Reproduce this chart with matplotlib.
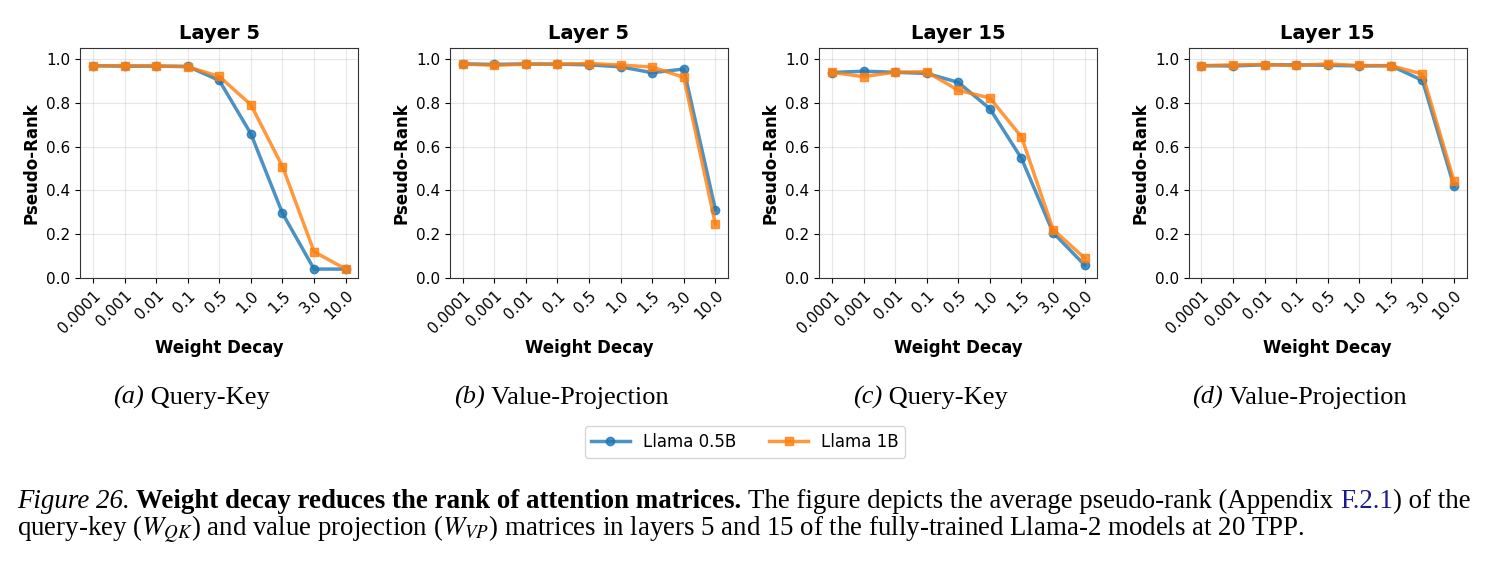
import matplotlib
matplotlib.use("Agg")
import matplotlib.pyplot as plt
import numpy as np

# dados
weight_decay = ["0.0001", "0.001", "0.01", "0.1", "0.5", "1.0", "1.5", "3.0", "10.0"]

qk_l5_05b = [0.968, 0.966, 0.966, 0.965, 0.901, 0.658, 0.296, 0.042, 0.042]
qk_l5_1b = [0.968, 0.968, 0.967, 0.963, 0.919, 0.790, 0.509, 0.121, 0.042]

vp_l5_05b = [0.976, 0.974, 0.976, 0.975, 0.972, 0.963, 0.936, 0.953, 0.313]
vp_l5_1b = [0.976, 0.970, 0.975, 0.975, 0.978, 0.971, 0.962, 0.915, 0.247]

qk_l15_05b = [0.937, 0.943, 0.938, 0.933, 0.892, 0.772, 0.546, 0.208, 0.060]
qk_l15_1b = [0.938, 0.918, 0.939, 0.940, 0.856, 0.821, 0.644, 0.222, 0.092]

vp_l15_05b = [0.968, 0.967, 0.972, 0.972, 0.970, 0.967, 0.968, 0.901, 0.418]
vp_l15_1b = [0.968, 0.972, 0.973, 0.969, 0.976, 0.969, 0.968, 0.930, 0.441]

titles = ["Layer 5", "Layer 5", "Layer 15", "Layer 15"]
subcaptions = [("(a)", "Query-Key"), ("(b)", "Value-Projection"),
               ("(c)", "Query-Key"), ("(d)", "Value-Projection")]
series_labels = ["Llama 0.5B", "Llama 1B"]

plt.rcParams["font.family"] = ["DejaVu Sans"]
plt.rcParams["mathtext.fontset"] = "stix"

W, H = 1491, 567
fig = plt.figure(figsize=(W / 100, H / 100), dpi=100)
r = fig.canvas.get_renderer()
serif = "Liberation Serif"

lefts = [80.3, 450.0, 819.3, 1188.7]
ax_w, ax_top, ax_bot = 278.0, 47.7, 278.3

dados = [(qk_l5_05b, qk_l5_1b), (vp_l5_05b, vp_l5_1b),
         (qk_l15_05b, qk_l15_1b), (vp_l15_05b, vp_l15_1b)]

x = np.arange(len(weight_decay))
handles = []
for i, (small, big) in enumerate(dados):
    ax = fig.add_axes([lefts[i] / W, 1 - ax_bot / H, ax_w / W, (ax_bot - ax_top) / H])
    h1, = ax.plot(x, small, marker="o", color="#1f77b4", lw=2.5, ms=6, alpha=0.8,
                  label=series_labels[0])
    h2, = ax.plot(x, big, marker="s", color="#ff7f0e", lw=2.5, ms=6, alpha=0.8,
                  label=series_labels[1])
    handles = [h1, h2]
    ax.set_ylim(0, 1.05)
    ax.set_xticks(x)
    ax.set_xticklabels(weight_decay, rotation=45, ha="right", rotation_mode="anchor", fontsize=11)
    ax.tick_params(axis="y", labelsize=11)
    ax.set_title(titles[i], fontsize=14, fontweight="bold")
    ax.set_xlabel("Weight Decay", fontsize=12, fontweight="bold", labelpad=2)
    ax.set_ylabel("Pseudo-Rank", fontsize=12, fontweight="bold")
    ax.grid(True, alpha=0.3)
    for s in ax.spines.values():
        s.set_color("#333333")

    # legenda (a), (b)... abaixo de cada painel
    cx = lefts[i] + ax_w / 2 - 28
    letra, nome = subcaptions[i]
    t1 = fig.text(0, 0, letra, fontsize=19, family=serif, style="italic", va="baseline")
    t2 = fig.text(0, 0, " " + nome, fontsize=19, family=serif, va="baseline")
    w1 = t1.get_window_extent(r).width
    w2 = t2.get_window_extent(r).width
    x0 = cx - (w1 + w2) / 2
    t1.set_position((x0 / W, 1 - 404 / H))
    t2.set_position(((x0 + w1) / W, 1 - 404 / H))

fig.legend(handles=handles, loc="center", bbox_to_anchor=(745 / W, 1 - 442 / H),
           ncol=2, fontsize=12, columnspacing=2.0, handlelength=2.3)

# legenda da figura, com estilos misturados
fs = 19.4
sp = fig.text(0, 0, "a a", fontsize=fs, family=serif)
sp2 = fig.text(0, 0, "aa", fontsize=fs, family=serif)
space_w = sp.get_window_extent(r).width - sp2.get_window_extent(r).width
sp.remove()
sp2.remove()


def escrever(xpix, ypix, partes):
    for texto, kw in partes:
        if texto == " ":
            xpix += space_w
            continue
        t = fig.text(xpix / W, 1 - ypix / H, texto, fontsize=fs, family=serif,
                     va="baseline", **kw)
        xpix += t.get_window_extent(r).width


escrever(17, 508, [
    ("Figure 26.", {"style": "italic"}), (" ", {}),
    ("Weight decay reduces the rank of attention matrices.", {"weight": "bold"}), (" ", {}),
    ("The figure depicts the average pseudo-rank (Appendix", {}), (" ", {}),
    ("F.2.1", {"color": "#1a1a8c"}),
    (") of the", {}),
])
escrever(17, 536, [
    ("query-key ($W_{QK}$) and value projection ($W_{VP}$) matrices in layers 5 and 15 "
     "of the fully-trained Llama-2 models at 20 TPP.", {}),
])

fig.savefig("out.png", dpi=100)
